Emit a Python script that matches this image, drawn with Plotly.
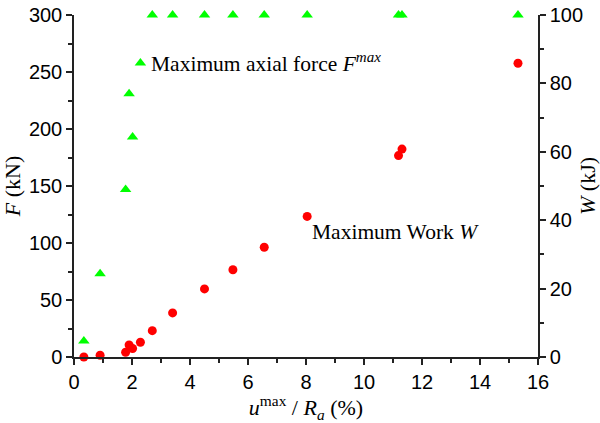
import plotly.graph_objects as go

# Normalised maximum displacement u_max / R_a (%)
u_ratio = [0.34, 0.90, 1.78, 1.90, 2.02, 2.29, 2.70, 3.40, 4.50, 5.48, 6.56, 8.04, 11.19, 11.31, 15.31]
# Maximum axial force F_max (kN)
force_max = [14, 73, 147, 231, 193, 258, 300, 300, 300, 300, 300, 300, 300, 300, 300]
# Maximum work W (kJ)
work_max = [0.0, 0.5, 1.4, 3.5, 2.5, 4.3, 7.7, 12.9, 19.9, 25.5, 32.1, 41.1, 58.9, 60.8, 85.9]

x_ticks = [0, 2, 4, 6, 8, 10, 12, 14, 16]
f_ticks = [0, 50, 100, 150, 200, 250, 300]
w_ticks = [0, 20, 40, 60, 80, 100]

SERIF = "Liberation Serif, Times New Roman, serif"
SANS = "Liberation Sans, Arial, sans-serif"

fig = go.Figure()
fig.add_trace(go.Scatter(
    x=u_ratio, y=force_max, mode="markers", yaxis="y",
    marker=dict(symbol="triangle-up", size=10, color="#00ff00"),
    cliponaxis=False, showlegend=False,
))
fig.add_trace(go.Scatter(
    x=u_ratio, y=work_max, mode="markers", yaxis="y2",
    marker=dict(symbol="circle", size=9, color="#ff0000"),
    cliponaxis=False, showlegend=False,
))

axis_common = dict(
    showgrid=False, zeroline=False, showline=True, linecolor="#222",
    linewidth=1.5, ticks="outside", ticklen=6, tickwidth=1.5, tickcolor="#222",
    tickfont=dict(family=SANS, size=20, color="black"),
    automargin=False,
)
minor_style = dict(ticks="outside", ticklen=4, tickwidth=1.5, tickcolor="#222")
title_font = dict(family=SERIF, size=22, color="black")

fig.update_layout(
    width=600, height=423,
    margin=dict(l=74, r=62, t=15, b=66),
    plot_bgcolor="white", paper_bgcolor="white",
    xaxis=dict(
        range=[0, 16], tickvals=x_ticks, minor=dict(dtick=1, **minor_style),
        title=dict(text="<i>u</i><sup>max</sup> / <i>R</i><sub><i>a</i></sub> (%)",
                   font=title_font, standoff=0),
        **axis_common,
    ),
    yaxis=dict(
        range=[0, 300], tickvals=f_ticks, minor=dict(dtick=25, **minor_style),
        title=dict(text="<i>F</i> (kN)", font=title_font, standoff=2),
        **axis_common,
    ),
    yaxis2=dict(
        range=[0, 100], tickvals=w_ticks, overlaying="y", side="right",
        minor=dict(dtick=10, **minor_style),
        title=dict(text="<i>W</i> (kJ)", font=title_font, standoff=0),
        **axis_common,
    ),
    annotations=[
        dict(x=2.6, y=258, xref="x", yref="y", xanchor="left", yanchor="middle",
             text="Maximum axial force <i>F</i><sup><i>max</i></sup>", showarrow=False,
             font=dict(family=SERIF, size=21.5, color="black")),
        dict(x=8.14, y=110, xref="x", yref="y", xanchor="left", yanchor="middle",
             text="Maximum Work <i>W</i>", showarrow=False,
             font=dict(family=SERIF, size=21.5, color="black")),
    ],
)

fig.write_html("out.html")
